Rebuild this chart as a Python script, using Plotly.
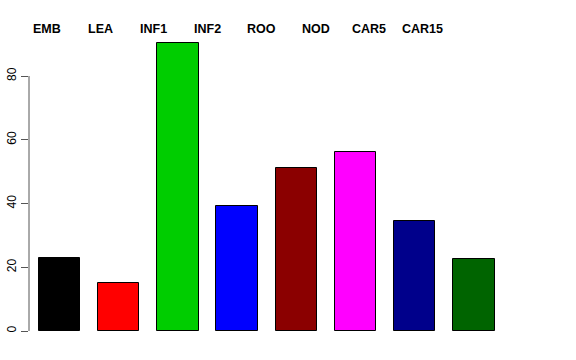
import plotly.graph_objects as go

categories = ["EMB", "LEA", "INF1", "INF2", "ROO", "NOD", "CAR5", "CAR15"]
values = [22.8, 15.2, 90.4, 39.3, 51.2, 56.2, 34.4, 22.5]
colors = ["#000000", "#FF0000", "#00CD00", "#0000FF", "#8B0000", "#FF00FF", "#00008B", "#006400"]
y_ticks = [0, 20, 40, 60, 80]
# left edges (px) of the header labels
label_left_px = [33, 88, 140, 194, 247, 302, 352, 402]

W, H = 576, 360
L, R, T, B = 29, 10, 30, 29
plot_w = W - L - R
plot_h = H - T - B

x_idx = list(range(len(categories)))
fig = go.Figure(go.Bar(
    x=x_idx, y=values,
    marker=dict(color=colors, line=dict(color="#000000", width=1)),
    width=0.7,
))

pitch = 59.2
c0 = 59.5
xmin = (L - c0) / pitch
xmax = (W - R - c0) / pitch
ymax = plot_h / 3.1875

annotations = []
for name, px in zip(categories, label_left_px):
    annotations.append(dict(
        x=(px - L) / plot_w, xref="paper", y=(H - B - 29) / plot_h, yref="paper",
        text="<b>%s</b>" % name, showarrow=False, xanchor="left", yanchor="middle",
        xshift=-1, borderpad=0,
        font=dict(family="Liberation Sans, Arial, sans-serif", size=12.5, color="#000000"),
    ))

fig.update_layout(
    width=W, height=H,
    margin=dict(l=L, r=R, t=T, b=B, autoexpand=False),
    paper_bgcolor="white", plot_bgcolor="white",
    showlegend=False,
    bargap=0,
    xaxis=dict(range=[xmin, xmax], showticklabels=False, showgrid=False, zeroline=False,
               showline=False, ticks="", automargin=False),
    yaxis=dict(range=[0, ymax], tickvals=y_ticks, ticks="outside", ticklen=7, tickwidth=1,
               tickcolor="#555555", tickangle=-90, showgrid=False, zeroline=False, showline=False,
               automargin=False,
               tickfont=dict(family="Liberation Sans, Arial, sans-serif", size=12, color="#000000")),
    shapes=[dict(type="line", xref="paper", x0=0, x1=0, yref="y", y0=0, y1=80,
                 line=dict(color="#555555", width=1))],
    annotations=annotations,
)

fig.write_html("out.html", config={"displayModeBar": False},
               post_script="document.body.style.margin='0';document.body.style.overflow='hidden';")
